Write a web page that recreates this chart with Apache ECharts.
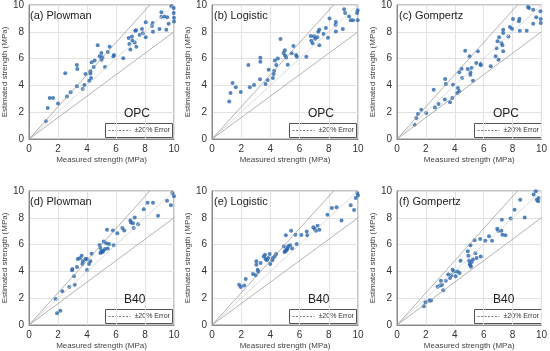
<!DOCTYPE html>
<html><head><meta charset="utf-8">
<script src="https://cdn.jsdelivr.net/npm/echarts@6/dist/echarts.min.js"></script>
<style>html,body{margin:0;padding:0;background:#fff}#c{width:550px;height:351px}</style>
</head><body><div id="c"></div>
<script>
// ---- data (measured, estimated) in MPa ----
const opcPlowman = [[1.17,1.32],[1.29,2.31],[1.43,3.06],[1.66,3.06],[2.0,2.64],[2.5,4.9],[2.62,3.18],[2.87,3.48],[3.3,3.93],[3.3,5.52],[3.33,5.22],[3.7,3.73],[3.82,4.03],[3.9,4.85],[4.16,4.35],[4.23,4.88],[4.23,5.05],[4.28,4.55],[4.32,5.72],[4.46,5.37],[4.53,5.85],[4.74,6.99],[4.87,6.17],[4.99,6.42],[5.0,5.92],[5.06,6.1],[5.24,5.37],[5.43,6.49],[5.56,6.89],[5.82,6.17],[5.86,6.27],[6.5,6.02],[6.87,7.54],[6.92,7.09],[6.99,6.67],[7.1,7.64],[7.13,7.36],[7.29,7.21],[7.33,8.08],[7.38,8.11],[7.4,6.89],[7.63,7.76],[7.79,8.21],[7.86,7.89],[8.05,7.59],[8.05,8.71],[8.48,8.43],[8.53,8.66],[8.55,8.01],[9.0,8.21],[9.13,9.45],[9.13,9.13],[9.33,9.15],[9.47,8.16],[9.54,9.08],[9.63,8.61],[9.82,9.9],[9.98,9.78],[9.98,9.4],[10.0,9.05],[10.0,8.76]];
const opcLogistic = [[1.18,2.79],[1.27,3.43],[1.41,4.18],[1.63,3.86],[1.97,3.51],[2.49,5.52],[2.59,3.86],[2.88,4.03],[3.29,4.45],[3.31,6.07],[3.31,5.77],[3.67,4.1],[3.81,4.4],[3.88,5.17],[4.17,4.55],[4.22,4.85],[4.26,5.1],[4.4,5.52],[4.31,5.85],[4.51,6.0],[4.69,7.46],[4.9,6.42],[4.99,6.62],[5.01,6.24],[5.08,6.09],[5.19,5.55],[5.46,6.39],[5.58,6.94],[5.76,6.27],[5.81,6.14],[6.46,6.14],[6.76,7.69],[6.8,7.34],[6.89,7.14],[6.98,7.66],[7.07,7.49],[7.21,7.59],[7.28,8.01],[7.35,8.16],[7.35,6.99],[7.64,7.84],[7.8,8.28],[7.94,7.56],[8.05,9.0],[8.46,8.51],[8.48,8.73],[8.48,8.03],[8.96,8.21],[9.05,9.68],[9.12,9.4],[9.39,9.15],[9.5,8.86],[9.66,8.86],[9.93,9.4],[9.98,9.6],[9.98,8.86]];
const opcGompertz = [[1.22,1.07],[1.34,1.57],[1.45,1.87],[1.68,2.19],[2.02,1.94],[2.54,3.68],[2.63,2.36],[2.88,2.61],[3.31,2.94],[3.33,4.48],[3.38,4.1],[3.67,2.74],[3.83,3.06],[3.88,4.05],[4.17,3.43],[4.22,3.81],[4.31,3.56],[4.31,4.98],[4.47,5.25],[4.51,4.55],[4.72,6.59],[4.9,5.22],[5.03,6.17],[5.08,4.98],[5.08,4.8],[5.17,5.3],[5.26,4.35],[5.49,5.67],[5.6,6.54],[5.78,5.6],[5.8,5.5],[6.49,5.42],[6.83,6.17],[6.89,6.77],[6.96,7.29],[7.03,5.92],[7.07,7.59],[7.23,7.16],[7.3,6.99],[7.35,7.91],[7.35,8.16],[7.35,6.54],[7.71,7.64],[7.82,8.36],[7.96,8.23],[8.03,8.96],[8.44,8.78],[8.48,8.98],[8.5,8.08],[8.98,8.08],[9.07,9.85],[9.14,9.78],[9.43,9.65],[9.43,8.61],[9.64,9.08],[9.93,9.53],[9.95,8.96],[9.95,8.66]];
const b40Plowman = [[1.93,0.87],[2.16,1.07],[1.84,1.94],[2.3,2.51],[2.78,2.84],[3.15,3.01],[3.1,3.63],[2.97,4.08],[2.99,4.18],[3.31,4.33],[3.36,4.93],[3.5,4.98],[3.63,5.17],[3.68,4.55],[3.72,4.75],[3.89,4.93],[3.98,4.93],[4.0,4.1],[4.14,4.55],[4.23,4.75],[4.32,5.32],[4.87,5.97],[4.92,5.75],[4.92,5.37],[4.97,5.45],[5.03,5.5],[5.08,5.45],[5.13,5.55],[5.15,6.24],[5.24,5.67],[5.33,6.1],[5.38,7.11],[5.43,5.7],[5.52,6.04],[5.79,7.06],[5.84,5.95],[6.09,6.84],[6.44,7.24],[6.57,7.06],[6.99,7.79],[7.03,7.64],[7.17,7.59],[7.22,7.24],[7.29,8.03],[7.52,7.51],[7.91,8.63],[8.18,9.13],[8.55,9.13],[8.9,8.16],[9.52,9.28],[9.79,8.93],[9.89,9.85],[10.0,9.6]];
const b40Logistic = [[1.86,3.01],[1.97,2.84],[2.2,2.94],[2.31,3.43],[2.81,3.81],[2.99,3.71],[3.13,4.13],[3.17,3.98],[3.04,4.75],[3.04,4.5],[3.33,4.63],[3.54,5.12],[3.63,5.25],[3.67,4.93],[3.76,4.83],[3.85,5.0],[3.95,5.3],[3.99,4.55],[4.13,4.83],[4.17,5.0],[4.29,5.12],[4.4,5.3],[4.92,5.85],[4.97,5.45],[5.01,5.5],[5.08,5.57],[5.12,5.62],[5.17,5.7],[5.22,5.87],[5.06,6.69],[5.35,5.95],[5.42,7.04],[5.49,5.7],[5.71,6.74],[5.8,6.04],[6.12,6.72],[6.49,6.97],[6.53,6.69],[6.94,7.29],[7.03,7.16],[7.12,7.04],[7.23,7.41],[7.35,7.11],[7.91,8.23],[8.21,8.73],[8.53,8.78],[8.87,7.79],[9.5,8.93],[9.73,8.58],[9.84,9.48],[9.95,9.85],[10.0,9.68]];
const b40Gompertz = [[1.86,1.39],[1.97,1.69],[2.24,1.82],[2.36,1.82],[2.81,2.86],[2.99,2.94],[3.11,3.01],[3.2,2.59],[3.04,3.31],[3.38,3.31],[3.54,3.76],[3.67,3.51],[3.76,3.71],[3.85,4.13],[3.95,4.0],[4.06,3.63],[4.17,4.0],[4.33,3.88],[4.4,4.8],[4.9,5.5],[4.94,5.17],[4.99,4.8],[5.03,4.55],[5.08,4.45],[5.12,4.35],[5.17,4.7],[5.08,5.95],[5.26,4.88],[5.42,5.35],[5.51,5.0],[5.8,5.12],[5.37,6.32],[5.76,6.42],[6.12,6.29],[6.37,6.62],[6.58,6.29],[6.94,7.19],[7.01,7.04],[7.23,7.04],[7.26,7.86],[7.3,6.74],[7.51,6.69],[7.87,7.94],[8.14,8.61],[8.53,9.35],[8.84,8.03],[9.46,9.73],[9.61,9.98],[9.68,9.35],[9.77,9.23],[9.8,9.48]];

const panelTitles = ['(a) Plowman','(b) Logistic','(c) Gompertz','(d) Plowman','(e) Logistic','(f) Gompertz'];
const mixLabels = ['OPC','OPC','OPC','B40','B40','B40'];
const tickValues = [0,2,4,6,8,10];
const errorSlopes = [0.8, 1.2];   // ±20 % error lines
const unitySlope = 1.0;
const legendText = '±20% Error';
const xName = 'Measured strength (MPa)';
const yName = 'Estimated strength (MPa)';
const datasets = [opcPlowman, opcLogistic, opcGompertz, b40Plowman, b40Logistic, b40Gompertz];

// ---- layout ----
const lefts = [28, 212, 397];
const tops = [5, 191];
const W = 146, H = 134;
const axMax = tickValues[tickValues.length-1];
const FONT = 'Liberation Sans';

function lineData(s){ return [[0,0],[Math.min(axMax, axMax/s), Math.min(axMax, s*axMax)]]; }

const grid=[], xAxis=[], yAxis=[], series=[], title=[], graphic=[];
datasets.forEach((d,i)=>{
  const L = lefts[i%3], T = tops[Math.floor(i/3)];
  grid.push({left:L, top:T, width:W, height:H, show:true, borderColor:'#8a8a8a', borderWidth:1, containLabel:false});
  xAxis.push({gridIndex:i, type:'value', min:tickValues[0], max:axMax, interval:2,
    name:xName, nameLocation:'middle', nameGap:17, nameTextStyle:{fontSize:8, color:'#444', fontFamily:FONT},
    axisLine:{show:true, lineStyle:{color:'#8a8a8a'}}, axisTick:{show:false},
    axisLabel:{fontSize:10, color:'#333', margin:5, fontFamily:FONT},
    splitLine:{show:true, lineStyle:{color:'#e2e2e2', width:1}}});
  yAxis.push({gridIndex:i, type:'value', min:tickValues[0], max:axMax, interval:2,
    name:yName, nameLocation:'middle', nameGap:19, nameTextStyle:{fontSize:8, color:'#444', fontFamily:FONT},
    axisLine:{show:true, lineStyle:{color:'#8a8a8a'}}, axisTick:{show:false},
    axisLabel:{fontSize:10, color:'#333', margin:5, fontFamily:FONT},
    splitLine:{show:true, lineStyle:{color:'#e2e2e2', width:1}}});
  series.push({type:'line', name:'unity'+i, xAxisIndex:i, yAxisIndex:i, data:lineData(unitySlope), symbol:'none', silent:true,
    lineStyle:{color:'#d4d4d4', width:0.8, type:'solid'}});
  errorSlopes.forEach(s=>{
    series.push({type:'line', name:legendText, xAxisIndex:i, yAxisIndex:i, data:lineData(s), symbol:'none', silent:true,
      lineStyle:{color:'#a0a0a0', width:0.8, type:'solid'}});
  });
  series.push({type:'scatter', name:'pts'+i, xAxisIndex:i, yAxisIndex:i, data:d, symbolSize:4,
    itemStyle:{color:'#2a66ad'}});
  title.push({text:panelTitles[i], left:L+2, top:T+5, textStyle:{fontSize:11, fontWeight:'normal', color:'#222', fontFamily:FONT}, padding:0});
  title.push({text:mixLabels[i], left:L+96, top:T+103, textStyle:{fontSize:12, fontWeight:'normal', color:'#222', fontFamily:FONT}, padding:0});
  // legend box for the ±20 % error lines
  const bx = L+77, by = T+118;
  graphic.push({type:'group', left:bx, top:by, children:[
    {type:'rect', shape:{x:0, y:0, width:67, height:14}, style:{fill:'#fff', stroke:'#555', lineWidth:1}},
    {type:'line', shape:{x1:3, y1:7, x2:25, y2:7}, style:{stroke:'#555', lineWidth:0.8, lineDash:[2,1.5]}},
    {type:'text', x:29, y:7, style:{text:legendText, fontSize:7, fill:'#333', fontFamily:FONT, verticalAlign:'middle', align:'left'}}
  ]});
});

const chart = echarts.init(document.getElementById('c'), null, {renderer:'canvas'});
chart.setOption({animation:false, backgroundColor:'#fff', grid, xAxis, yAxis, series, title, graphic});
</script></body></html>
